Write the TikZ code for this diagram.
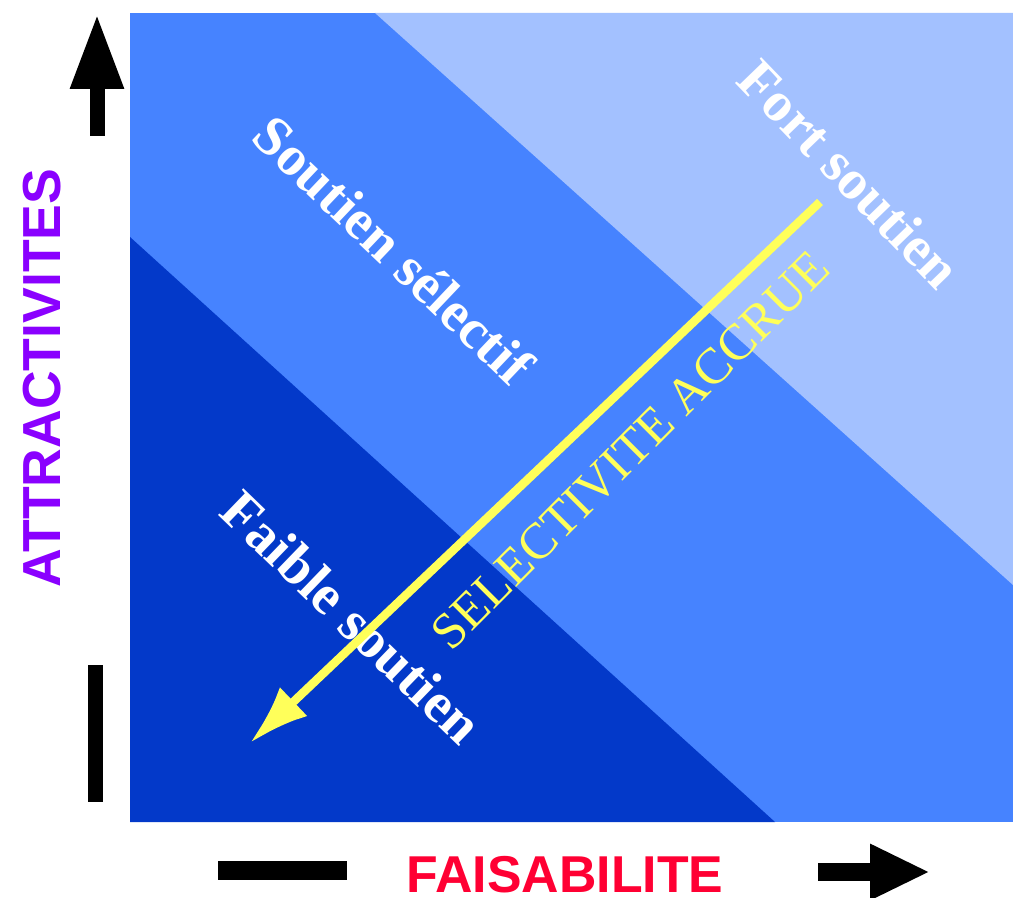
\documentclass[tikz,border=0pt]{standalone}
\usepackage{fontspec}
\setmainfont{Liberation Serif}
\setsansfont{Liberation Sans}
\usepackage{xcolor}
\usetikzlibrary{arrows.meta}
\definecolor{zonelight}{HTML}{A3C1FF}
\definecolor{zonemid}{HTML}{4683FF}
\definecolor{zonedark}{HTML}{0339C9}
\definecolor{selyellow}{HTML}{FFFF5A}
\definecolor{attrpurple}{HTML}{8A00FF}
\definecolor{faisred}{HTML}{FF0033}

\begin{document}
\begin{tikzpicture}[
  x=0.02cm, y=0.02cm,
  zonelabel/.style={text=white, inner sep=0pt,
                    font=\bfseries\fontsize{32}{34}\selectfont},
  sellabel/.style={text=selyellow, inner sep=0pt,
                   font=\fontsize{29}{31}\selectfont},
  axislabel/.style={inner sep=0pt,
                    font=\sffamily\bfseries\fontsize{30.5}{33}\selectfont},
  selarrow/.style={-{Latex[length=1.2cm, width=0.8cm]}, draw=selyellow,
                   line width=0.17cm},
  axisarrow/.style={-{Triangle[length=1.5cm, width=1cm]}, line width=0.3cm},
  minusbar/.style={fill=black}
]
\useasboundingbox (0,0) rectangle (1013,897);

% ---------------- Zones ----------------
\fill[zonemid]   (130,75) rectangle (1013,884);
\fill[zonelight] (375,884) -- (1013,884) -- (1013,312) -- cycle;
\fill[zonedark]  (130,660) -- (775,75) -- (130,75) -- cycle;

\node[zonelabel, rotate=-46]   (fort)     at (850,723) {Fort soutien};
\node[zonelabel, rotate=-43.5] (selectif) at (394,647) {Soutien sélectif};
\node[zonelabel, rotate=-44]   (faible)   at (352,280) {Faible soutien};

% ---------------- Selectivity arrow ----------------
\coordinate (selstart) at (820,695);
\coordinate (selend)   at (250,154);
\draw[selarrow] (selstart) -- (selend);
\node[sellabel, rotate=45] (accrue) at (630,447) {SELECTIVITE ACCRUE};

% ---------------- Axes ----------------
\node[axislabel, text=attrpurple, rotate=90] (attr) at (42,519) {ATTRACTIVITES};
\node[axislabel, text=faisred, font=\sffamily\bfseries\fontsize{29.5}{31}\selectfont,
      anchor=base] (faisab) at (565,5) {FAISABILITE};

\coordinate (upbase)  at (97,761);
\coordinate (uptip)   at (97,883);
\draw[axisarrow] (upbase) -- (uptip);
\fill[minusbar] (88,95) rectangle (103,232);

\coordinate (rightbase) at (818,25);
\coordinate (righttip)  at (930,25);
\draw[axisarrow, line width=0.36cm,
      -{Triangle[length=1.2cm, width=1.04cm]}] (rightbase) -- (righttip);
\fill[minusbar] (218,17) rectangle (347,36);

\end{tikzpicture}
\end{document}
